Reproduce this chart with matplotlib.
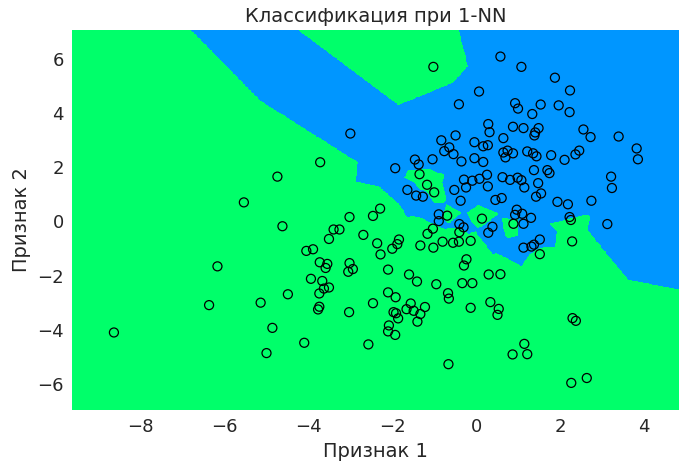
import numpy as np
import matplotlib
matplotlib.use('Agg')
import matplotlib.pyplot as plt
from matplotlib.colors import ListedColormap

# точки класса 0 (зелёный)
x1_c0 = [-3.72, -1.02, -4.74, -5.54, -4.62, -3.02, -2.46, -2.29, -3.40, -3.26,
         -3.51, -2.69, -2.36, -2.28, -4.05, -3.89, -3.73, -3.55, -3.59, -3.02,
         -2.94, -3.05, -3.94, -3.67, -3.51, -3.63, -3.74, -4.49, -5.14, -3.74,
         -3.77, -3.03, -2.46, -4.86, -4.10, -5.00, -2.57, -6.37, -8.64, -6.17,
         -1.35, -1.17, -1.00, -0.69, 0.14, -1.03, -1.16, -0.80, -0.55, -0.41,
         -0.13, -1.33, -1.02, -1.84, -1.88, -2.00, -0.23, -0.29, -2.10, -1.60,
         -1.41, -0.95, -0.33, -0.09, 0.30, 0.58, -2.10, -1.92, -0.67, -0.65,
         0.34, 0.54, 0.51, -0.13, -1.56, -1.22, -1.66, -1.49, -1.33, -1.97,
         -1.91, -1.86, -1.40, -2.08, -2.10, -1.93, -0.66, 1.15, 0.87, 1.22,
         2.30, 2.38, 2.64, 2.27, 2.26, 2.29, 1.52, -0.40, 0.89]
x2_c0 = [2.18, 5.70, 1.65, 0.70, -0.18, 0.16, 0.20, 0.47, -0.30, -0.30,
         -0.65, -0.50, -0.81, -1.22, -1.09, -1.03, -1.51, -1.57, -1.72, -1.54,
         -1.76, -1.86, -2.12, -2.20, -2.44, -2.48, -2.66, -2.69, -3.00, -3.15,
         -3.25, -3.35, -3.02, -3.93, -4.48, -4.86, -4.54, -3.09, -4.10, -1.66,
         1.74, 1.35, 1.07, 0.21, 0.10, -0.27, -0.46, -0.75, -0.79, -0.75,
         -0.72, -0.89, -0.97, -0.67, -0.84, -1.01, -1.40, -1.63, -1.78, -1.96,
         -2.22, -2.32, -2.28, -2.28, -1.96, -1.95, -2.62, -2.80, -2.65, -2.85,
         -2.98, -3.23, -3.45, -3.19, -3.03, -3.16, -3.24, -3.30, -3.42, -3.35,
         -3.39, -3.58, -3.70, -3.84, -4.06, -4.19, -5.27, -4.52, -4.91, -4.90,
         -3.57, -3.67, -5.78, -5.96, 0.05, -0.74, -1.21, -0.40, -0.09]

# точки класса 1 (синий)
x1_c1 = [-3.00, 0.58, 1.08, 0.07, -0.41, 0.93, 1.00, 0.29, 0.32, 0.88,
         1.13, -0.83, -0.49, -0.04, 0.65, 0.17, 0.28, -0.64, -0.76, -0.54,
         0.65, 0.75, 0.88, 1.22, 1.88, 2.24, 1.54, 1.97, 1.34, 2.23,
         1.49, 1.41, 1.39, 2.56, 2.73, 3.40, 3.83, 3.86, 1.36, 1.44,
         1.79, 2.11, 2.37, 2.46, -1.46, -1.37, -1.04, -0.35, -0.04, 0.17,
         0.70, -1.93, -1.64, -1.43, -1.27, -0.52, -0.37, -0.29, -0.24, -0.09,
         0.08, 0.26, 0.28, 0.63, 0.81, 0.99, 1.08, 1.15, 0.46, 0.61,
         0.97, 0.93, 1.10, 1.38, 1.70, 1.75, 1.48, 1.55, 1.43, 3.22,
         3.24, 2.75, 1.94, 2.19, 2.23, 3.13, 1.31, 1.52, 1.32, 1.38,
         1.13, -0.89, -0.89, -0.40, -0.30, 0.39, 0.29, 1.13]
x2_c1 = [3.24, 6.08, 5.70, 4.79, 4.32, 4.36, 4.16, 3.59, 3.29, 3.49,
         3.44, 2.99, 3.17, 2.92, 3.07, 2.77, 2.81, 2.73, 2.59, 2.48,
         2.54, 2.61, 2.51, 2.58, 5.30, 4.83, 4.31, 4.28, 3.96, 4.03,
         3.44, 3.28, 3.17, 3.39, 3.11, 3.13, 2.69, 2.29, 2.51, 2.40,
         2.44, 2.27, 2.47, 2.61, 2.28, 2.10, 2.29, 2.21, 2.33, 2.19,
         2.36, 1.96, 1.16, 0.95, 0.91, 1.16, 0.76, 1.54, 1.25, 1.50,
         1.57, 1.72, 1.29, 1.63, 1.53, 1.61, 1.52, 1.25, 0.79, 0.86,
         0.43, 0.24, 0.28, 1.89, 1.89, 1.78, 1.41, 1.03, 0.91, 1.65,
         1.23, 0.76, 0.72, 0.63, 0.16, -0.10, 0.13, -0.67, -0.93, -0.86,
         -0.97, 0.26, 0.01, -0.10, -0.22, -0.20, -0.42, -0.09]

X = np.array(list(zip(x1_c0 + x1_c1, x2_c0 + x2_c1)))
y = np.array([0] * len(x1_c0) + [1] * len(x1_c1))

# стандартизация признаков перед 1-NN
mu = X.mean(axis=0)
sd = X.std(axis=0)
Xs = (X - mu) / sd

h = 0.02
x_min, x_max = X[:, 0].min() - 1, X[:, 0].max() + 1
y_min, y_max = X[:, 1].min() - 1, X[:, 1].max() + 1
xx, yy = np.meshgrid(np.arange(x_min, x_max, h), np.arange(y_min, y_max, h))
grid = (np.c_[xx.ravel(), yy.ravel()] - mu) / sd
Z = np.empty(len(grid), dtype=int)
for i in range(0, len(grid), 20000):
    d = ((grid[i:i + 20000, None, :] - Xs[None, :, :]) ** 2).sum(axis=2)
    Z[i:i + 20000] = y[d.argmin(axis=1)]
Z = Z.reshape(xx.shape)

cmap = ListedColormap(['#00ff6a', '#0096ff'])

fig = plt.figure(figsize=(6.79, 4.66), dpi=100)
ax = fig.add_axes([72 / 679, 56 / 466, 607 / 679, 380 / 466])
ax.pcolormesh(xx, yy, Z, cmap=cmap, shading='auto')
ax.scatter(X[:, 0], X[:, 1], s=42, facecolors='none', edgecolors='k', linewidths=0.9)
ax.set_xlim(xx.min(), xx.max())
ax.set_ylim(yy.min(), yy.max())
ax.set_xticks(range(-8, 5, 2))
ax.set_yticks(range(-6, 7, 2))
for s in ax.spines.values():
    s.set_visible(False)
ax.tick_params(length=0, labelsize=13, colors='#262626', pad=6)
ax.set_xlabel('Признак 1', fontsize=14, color='#262626')
ax.set_ylabel('Признак 2', fontsize=14, color='#262626')
ax.set_title('Классификация при 1-NN', fontsize=14, color='#262626')
fig.savefig('out.png', dpi=100)
